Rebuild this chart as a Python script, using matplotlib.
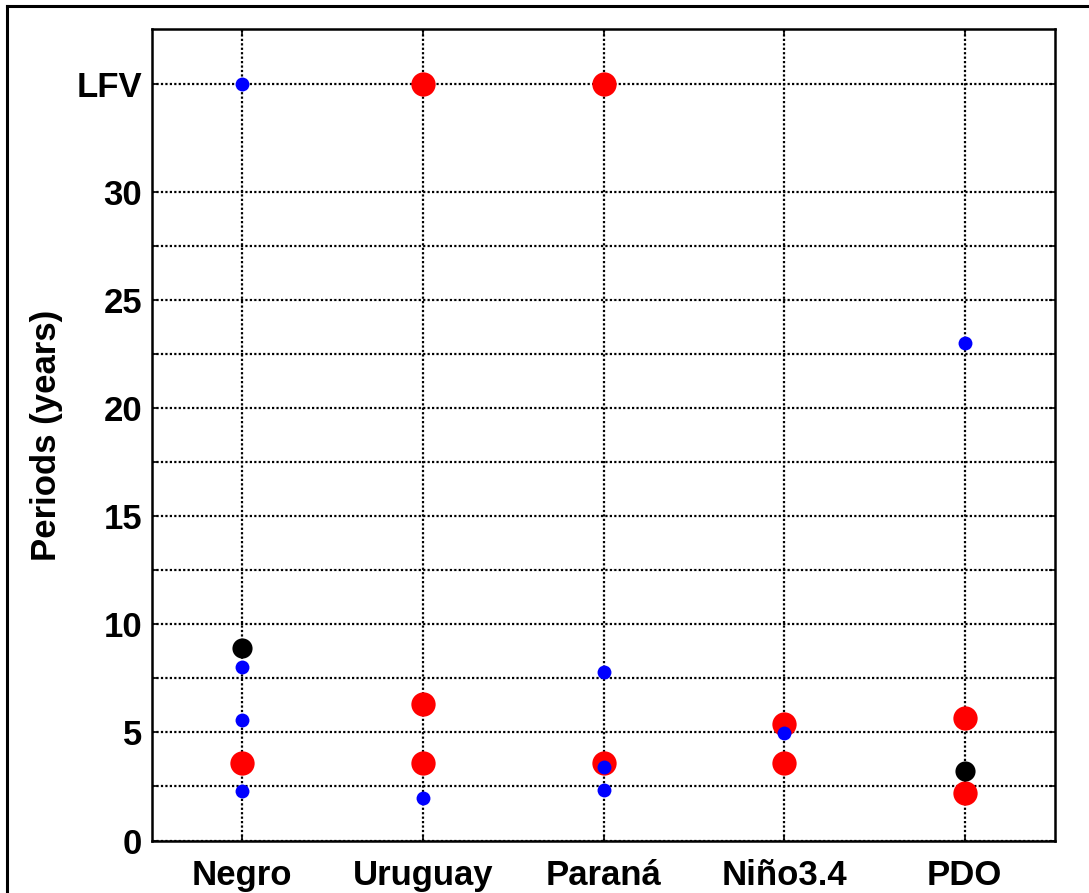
import numpy as np
import matplotlib.pyplot as plt
from matplotlib.lines import Line2D

plt.rcParams['font.family'] = ['Liberation Sans', 'DejaVu Sans']
plt.rcParams['font.weight'] = 'bold'

LFV = 35.0

categories = ['Negro', 'Uruguay', 'Paraná', 'Niño3.4', 'PDO']

# periodos significativos (indice da categoria, periodo em anos)
red_cat = [1, 2, 2, 2, 3, 3, 4, 4, 5, 5]
red_val = [3.6, LFV, 6.32, 3.6, LFV, 3.6, 5.4, 3.6, 5.68, 2.2]

black_cat = [1, 5]
black_val = [8.9, 3.2]

blue_cat = [1, 1, 1, 1, 2, 3, 3, 3, 4, 5]
blue_val = [LFV, 8.0, 5.55, 2.28, 1.98, 7.78, 3.38, 2.33, 4.95, 23.0]

ytick_vals = [0, 5, 10, 15, 20, 25, 30, LFV]
ytick_labels = ['0', '5', '10', '15', '20', '25', '30', 'LFV']

fig = plt.figure(figsize=(10.89, 8.93), dpi=100)
ax = fig.add_axes([152 / 1089, 52.5 / 893, (1055 - 152) / 1089, (840.5 - 29.5) / 893])

ax.plot(red_cat, red_val, 'o', color='red', ms=17.5, mec='none', zorder=3)
ax.plot(black_cat, black_val, 'o', color='black', ms=14.5, mec='none', zorder=4)
ax.plot(blue_cat, blue_val, 'o', color='blue', ms=10, mec='none', zorder=5)

ax.set_xlim(0.5, 5.5)
ax.set_ylim(0, 37.5)
ax.set_xticks(range(1, len(categories) + 1))
ax.set_xticklabels(categories)
ax.set_yticks(ytick_vals)
ax.set_yticklabels(ytick_labels)
ax.set_yticks(np.arange(2.5, 30, 5), minor=True)

ax.tick_params(axis='both', which='both', direction='in', length=4, width=1.2,
               top=True, right=True, labelsize=25)
ax.tick_params(axis='x', pad=13)
ax.tick_params(axis='y', pad=7)

ax.grid(True, which='both', color='black', linestyle=(0, (1, 1)), linewidth=1.6)
for s in ax.spines.values():
    s.set_linewidth(1.8)

ax.set_ylabel('Periods (years)', fontsize=25, fontweight='bold')
ax.yaxis.set_label_coords(-0.099, 0.5)

# moldura externa (recortada)
fig.add_artist(Line2D([7 / 1089, 7 / 1089], [0, 1 - 6 / 893], color='black', lw=2.2,
                      transform=fig.transFigure))
fig.add_artist(Line2D([7 / 1089, 1], [1 - 6 / 893, 1 - 6 / 893], color='black', lw=2.2,
                      transform=fig.transFigure))

fig.savefig('out.png', dpi=100)
